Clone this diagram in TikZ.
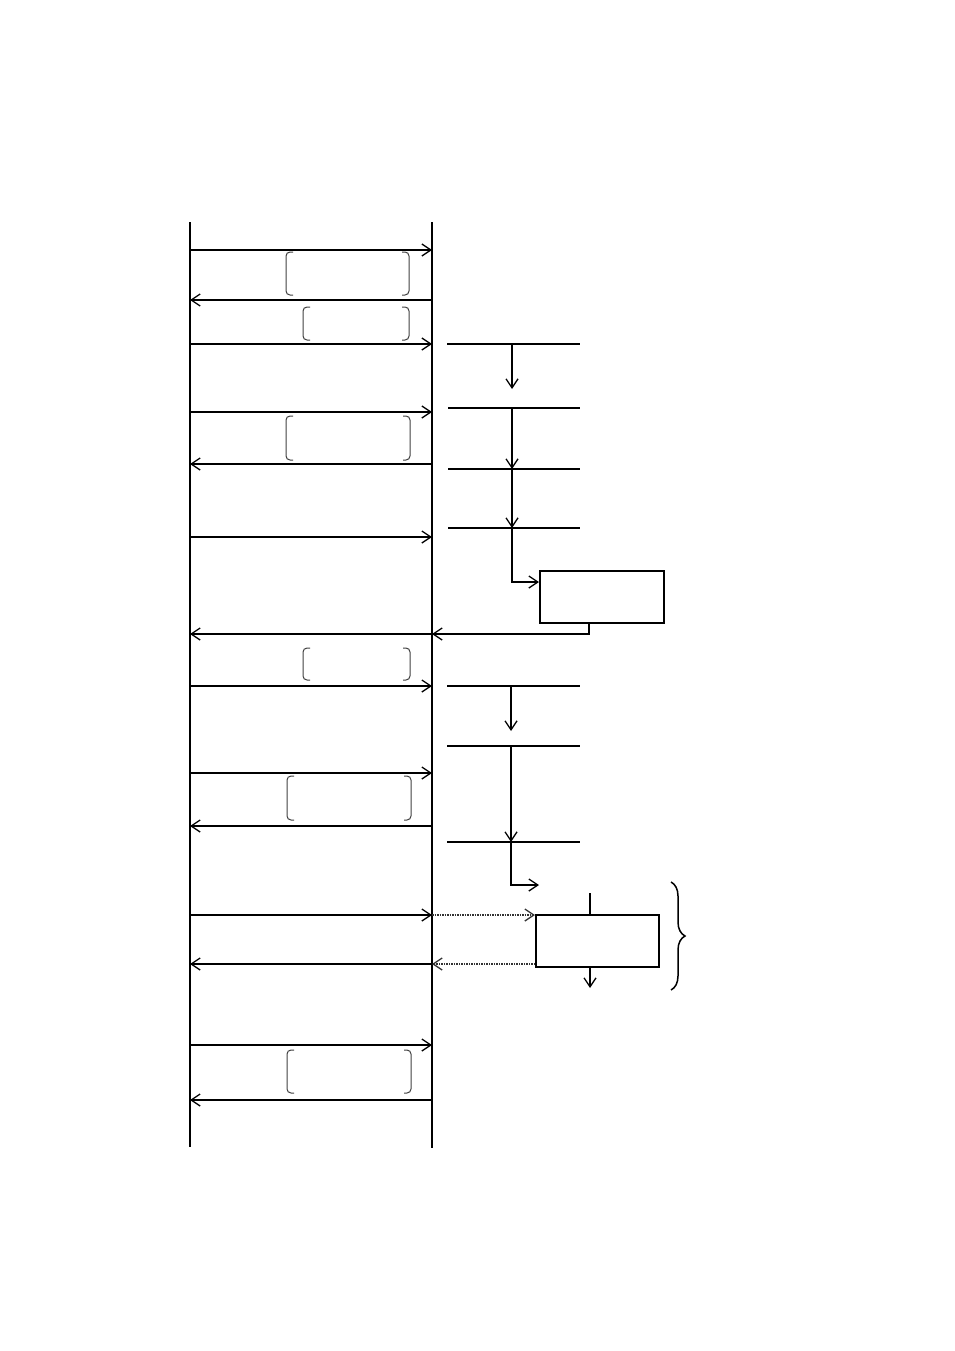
\documentclass[tikz,border=0pt]{standalone}
\usetikzlibrary{arrows.meta,decorations.pathreplacing}
\begin{document}
\begin{tikzpicture}[x=1pt,y=-1pt,
  life/.style={line width=2.8pt},
  msg/.style={line width=1.6pt,-{Straight Barb[length=9pt,width=12pt,line width=1.3pt]}},
  hl/.style={line width=1.7pt},
  vd/.style={line width=1.5pt,-{Straight Barb[length=9pt,width=12pt,line width=1.3pt]}},
  dot/.style={line width=1.5pt,densely dotted,-{Straight Barb[length=9pt,width=12pt,line width=1.3pt]}},
  brk/.style={line width=1pt,draw=black!75,rounded corners=4pt},
  procbox/.style={draw,line width=1.7pt,anchor=north west,inner sep=0pt}]
\useasboundingbox (0,0) rectangle (954,1351);
% lifelines
\coordinate (Lt) at (190,222); \coordinate (Lb) at (190,1147);
\coordinate (Rt) at (432,222); \coordinate (Rb) at (432,1148);
\draw[life] (Lt) -- (Lb);
\draw[life] (Rt) -- (Rb);
% messages
\foreach \y/\d in {250/r,300/l,344/r,412/r,464/l,537/r,634/l,686/r,773/r,826/l,915/r,964/l,1045/r,1100/l}{
  \coordinate (mL\y) at (190,\y); \coordinate (mR\y) at (432,\y);
  \if r\d \draw[msg] (mL\y) -- (mR\y); \else \draw[msg] (mR\y) -- (mL\y); \fi
}
% bracket boxes
\foreach \xa/\xb/\ya/\yb in {286/409/252/295, 303/409/307/340, 286/410/416/460, 303/410/648/680, 287/411/776/820, 287/411/1050/1093}{
  \draw[brk] (\xa+7,\ya) -- (\xa,\ya) -- (\xa,\yb) -- (\xa+7,\yb);
  \draw[brk] (\xb-7,\ya) -- (\xb,\ya) -- (\xb,\yb) -- (\xb-7,\yb);
}
% right side horizontal lines
\foreach \y/\xs in {344/447,408/448,469/448,528/448,686/447,746/447,842/447}{
  \coordinate (hA\y) at (\xs,\y); \coordinate (hB\y) at (580,\y);
  \draw[hl] (hA\y) -- (hB\y);
}
% boxes
\node[procbox,minimum width=124pt,minimum height=52pt] (b1) at (539,570) {};
\node[procbox,minimum width=123pt,minimum height=52pt] (b2) at (535,914) {};
% vertical flow arrows
\coordinate (v1) at (512,344); \coordinate (v1e) at (512,389);
\draw[vd] (v1) -- (v1e);
\coordinate (v2) at (512,408); \coordinate (v2e) at (512,469);
\draw[vd] (v2) -- (v2e);
\coordinate (v3e) at (512,528);
\draw[vd] (v2e) -- (v3e);
\coordinate (v4) at (512,582);
\draw[vd] (v3e) -- (v4) -- (b1.west |- v4);
\coordinate (o1) at (589,634);
\draw[vd] (b1.south -| o1) -- (o1) -- (mR634);
\coordinate (w1) at (511,686); \coordinate (w1e) at (511,731);
\draw[vd] (w1) -- (w1e);
\coordinate (w2) at (511,746); \coordinate (w2e) at (511,842);
\draw[vd] (w2) -- (w2e);
\coordinate (w3) at (511,885); \coordinate (w3e) at (539,885);
\draw[vd] (w2e) -- (w3) -- (w3e);
% box2 connections
\coordinate (t2) at (590,893);
\draw[line width=1.2pt] (t2) -- (b2.north -| t2);
\coordinate (d2) at (590,988);
\draw[vd] (b2.south -| d2) -- (d2);
\draw[dot,draw=black!80] (mR915) -- (b2.west |- mR915);
\draw[dot,draw=black!80] (b2.west |- mR964) -- (mR964);
% brace
\coordinate (brT) at (671,882); \coordinate (brB) at (671,990);
\draw[line width=1.5pt,decorate,decoration={brace,amplitude=14pt}] (brT) -- (brB);
\end{tikzpicture}
\end{document}
